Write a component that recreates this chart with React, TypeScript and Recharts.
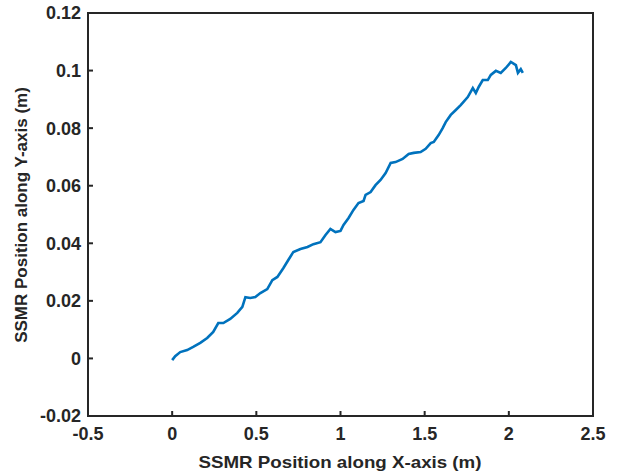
import React from 'react';
import { LineChart, Line, XAxis, YAxis, Label, ReferenceArea } from 'recharts';

// SSMR path (metres)
const xPos = [
    0.0, 0.018, 0.048, 0.089, 0.125, 0.167, 0.208, 0.244, 0.274, 0.304, 0.345, 0.387, 0.417, 0.435, 0.464,
    0.494, 0.524, 0.565, 0.595, 0.625, 0.661, 0.69, 0.72, 0.762, 0.804, 0.839, 0.881, 0.911, 0.94, 0.97,
    1.0, 1.018, 1.048, 1.077, 1.107, 1.137, 1.149, 1.179, 1.208, 1.238, 1.268, 1.298, 1.327, 1.369, 1.405,
    1.435, 1.476, 1.506, 1.536, 1.554, 1.583, 1.607, 1.625, 1.655, 1.685, 1.714, 1.756, 1.786, 1.804, 1.821,
    1.845, 1.875, 1.893, 1.923, 1.952, 1.982, 2.012, 2.042, 2.054, 2.071, 2.083,
];
const yPos = [
    -0.0006, 0.0008, 0.0022, 0.0029, 0.004, 0.0054, 0.0071, 0.0092, 0.0123, 0.0123, 0.0137, 0.0158, 0.0179,
    0.0213, 0.021, 0.0213, 0.0227, 0.0241, 0.0272, 0.0283, 0.0314, 0.0342, 0.037, 0.038, 0.0387, 0.0397,
    0.0404, 0.0429, 0.045, 0.0439, 0.0443, 0.0464, 0.0488, 0.0516, 0.054, 0.0547, 0.0568, 0.0578, 0.0602,
    0.062, 0.0644, 0.0679, 0.0682, 0.0693, 0.071, 0.0714, 0.0717, 0.0728, 0.0748, 0.0752, 0.0776, 0.08,
    0.0821, 0.0846, 0.0863, 0.088, 0.0908, 0.0939, 0.0922, 0.0943, 0.0967, 0.0967, 0.0985, 0.0999, 0.0992,
    0.1009, 0.103, 0.1019, 0.0992, 0.1005, 0.0992,
];
const xTicks = [-0.5, 0, 0.5, 1, 1.5, 2, 2.5];
const yTicks = [-0.02, 0, 0.02, 0.04, 0.06, 0.08, 0.1, 0.12];

const data = xPos.map((x, i) => ({ x, y: yPos[i] }));

const font = '"Liberation Sans", Arial, sans-serif';
const axisColor = '#262626';
const fmt = (v: number) => String(Number(v.toFixed(2)));
const tickStyle = { fontFamily: font, fontSize: 18, fontWeight: 700, fill: axisColor };
const titleStyle = { fontFamily: font, fontSize: 17, fontWeight: 700, fill: axisColor };

const App: React.FC = () => {
    return (
        <div style={{ position: 'absolute', left: 0, top: 0, background: '#fff' }}>
            <LineChart width={617} height={473} data={data} margin={{ top: 13, right: 24, bottom: 0, left: 0 }}>
                <XAxis
                    dataKey="x"
                    type="number"
                    domain={[-0.5, 2.5]}
                    ticks={xTicks}
                    tickFormatter={fmt}
                    height={57}
                    tickSize={-5}
                    tickMargin={16}
                    interval={0}
                    allowDataOverflow
                    tick={tickStyle}
                    stroke={axisColor}
                    strokeWidth={2}
                >
                    <Label
                        content={() => (
                            <text x={340} y={468} textAnchor="middle" textLength={283} lengthAdjust="spacingAndGlyphs" style={titleStyle}>
                                SSMR Position along X-axis (m)
                            </text>
                        )}
                    />
                </XAxis>
                <YAxis
                    type="number"
                    domain={[-0.02, 0.12]}
                    ticks={yTicks}
                    tickFormatter={fmt}
                    width={88}
                    tickSize={-5}
                    tickMargin={12}
                    interval={0}
                    allowDataOverflow
                    tick={tickStyle}
                    stroke={axisColor}
                    strokeWidth={2}
                >
                    <Label
                        content={() => (
                            <text x={27} y={215} transform="rotate(-90 27 215)" textAnchor="middle" style={titleStyle}>
                                SSMR Position along Y-axis (m)
                            </text>
                        )}
                    />
                </YAxis>
                <ReferenceArea x1={-0.5} x2={2.5} y1={-0.02} y2={0.12} fill="none" stroke={axisColor} strokeWidth={2} />
                <Line dataKey="y" stroke="#0072BD" strokeWidth={2.6} dot={false} isAnimationActive={false} />
            </LineChart>
        </div>
    );
};

export default App;
